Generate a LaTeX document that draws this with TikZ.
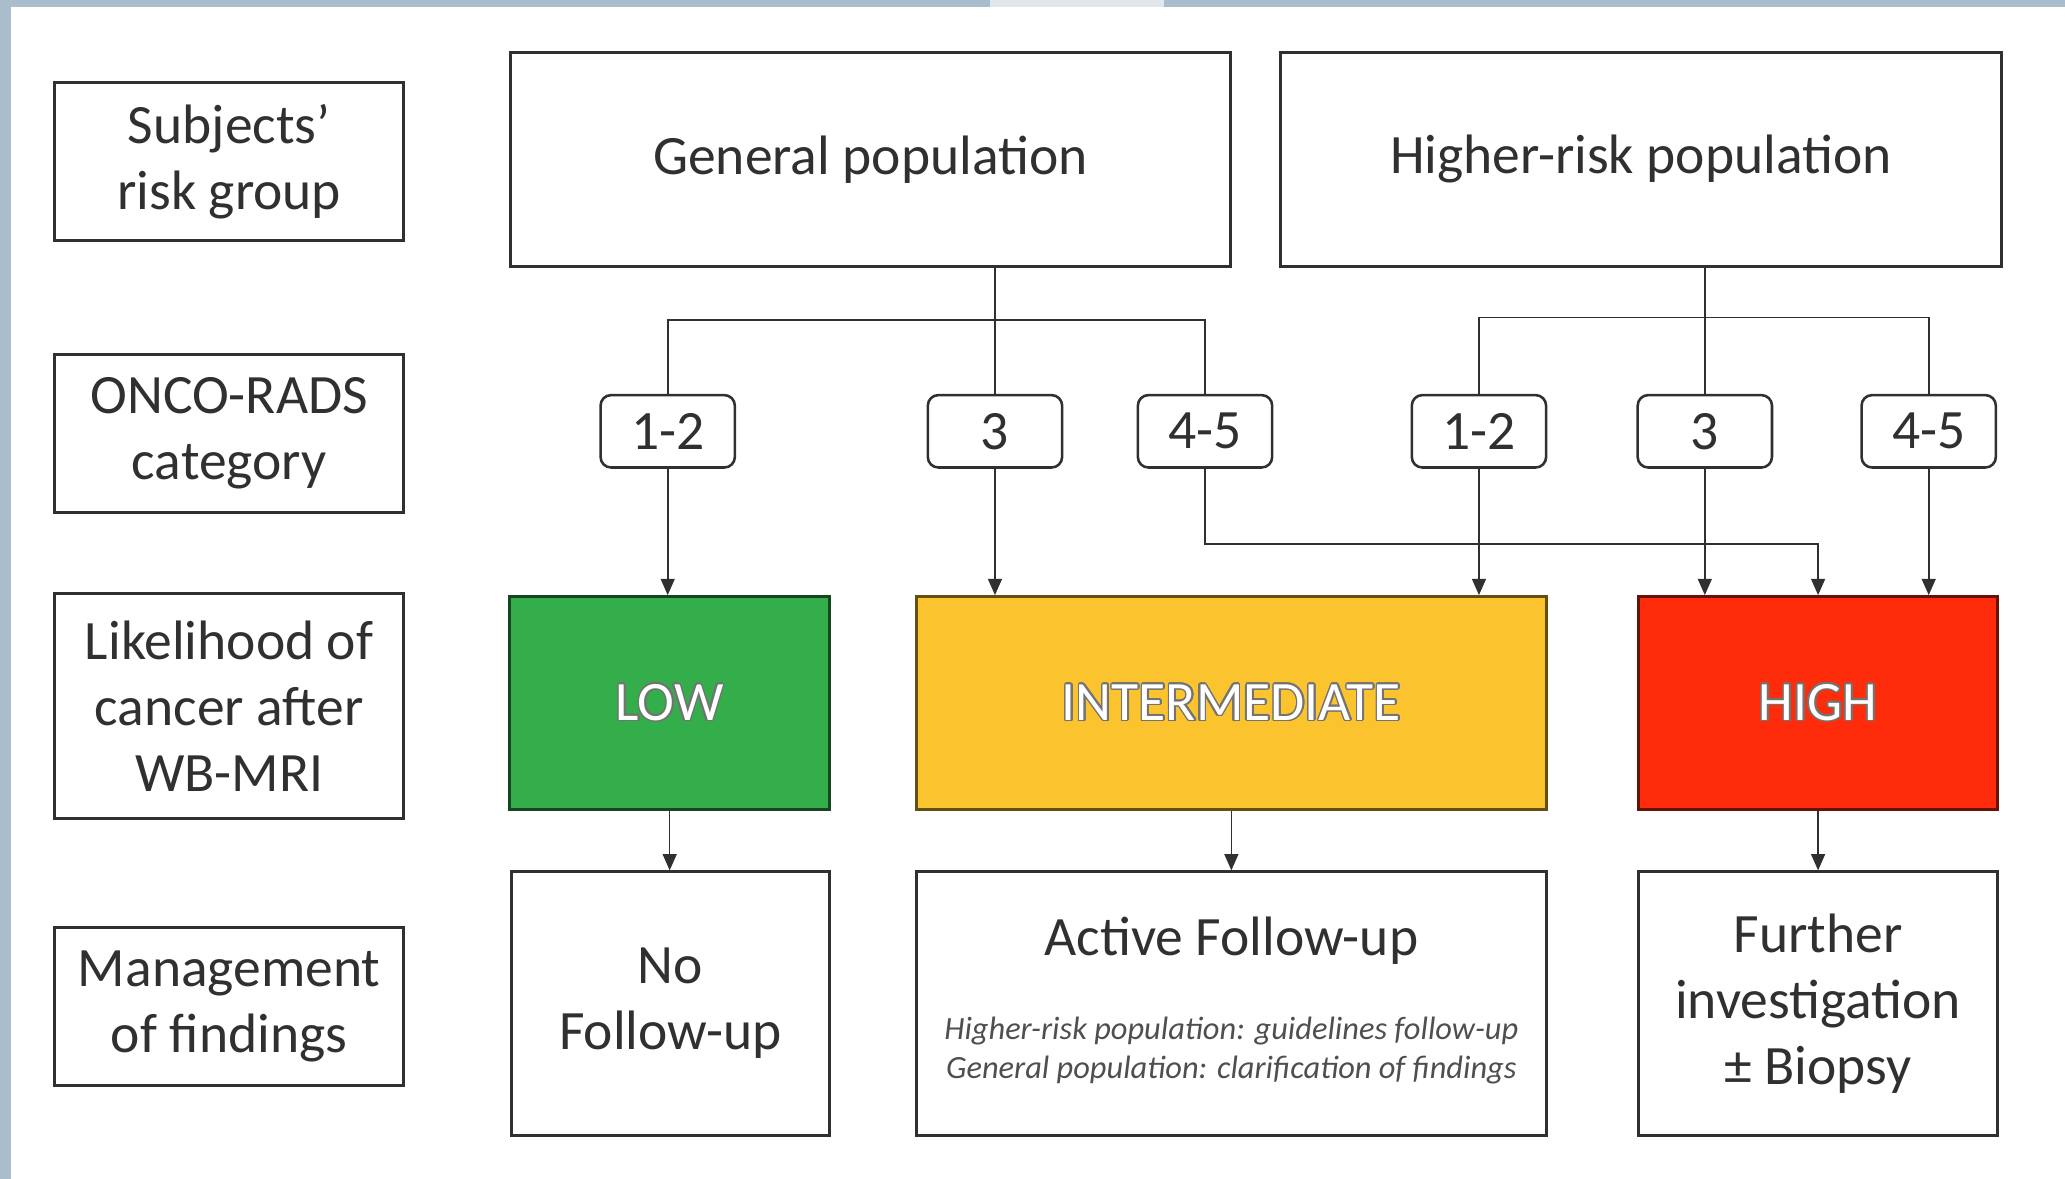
\documentclass[tikz,border=0pt]{standalone}
\usepackage{fontspec}
\setmainfont{Carlito}
\usepackage{contour}
\contourlength{0.7pt}
\usetikzlibrary{arrows.meta}

\definecolor{slideblue}{HTML}{A9BDCC}
\definecolor{inkgray}{HTML}{303030}
\definecolor{lowgreen}{HTML}{34AE4A}
\definecolor{midyellow}{HTML}{FBC32E}
\definecolor{highred}{HTML}{FF2C0C}

\tikzset{
  rowbox/.style={draw=inkgray, line width=1.3pt, align=center, text=inkgray,
    inner sep=0pt, font=\fontsize{24}{28.5}\selectfont},
  titlebox/.style={rowbox, minimum width=5.3cm, minimum height=2.4cm},
  popbox/.style={rowbox, minimum width=10.94cm, minimum height=3.24cm},
  catbox/.style={rowbox, line width=1.1pt, rounded corners=0.16cm,
    minimum width=2.04cm, minimum height=1.1cm},
  riskbox/.style={rowbox, minimum height=3.24cm, text=white,
    fill=#1, draw=#1!40!black},
  mgmtbox/.style={rowbox, minimum height=4cm},
  link/.style={draw=inkgray, line width=0.7pt},
  arr/.style={link, -{Triangle[length=7pt,width=6pt]}},
}

\begin{document}
\begin{tikzpicture}[x=0.02cm, y=-0.02cm]
      \useasboundingbox (0,0) rectangle (1568,895);
      \fill[slideblue] (0,0) rectangle (1568,895);
      \fill[slideblue!35] (752,0) rectangle (884,5);
      \fill[white] (8,5) rectangle (1568,895);
      % row titles
      \draw
        (174,123) node[titlebox] (subj){Subjects’\\risk group}
        (174,329) node[titlebox] (onco){ONCO-RADS\\category}
        (174,536) node[titlebox, minimum height=3.42cm] (lik){Likelihood of\\cancer after\\WB-MRI}
        (174,764) node[titlebox] (mgmt){Management\\of findings};
      % populations
      \draw
        (661,121) node[popbox] (gen){General population}
        (1246,121) node[popbox] (hrp){Higher-risk population};
      % ONCO-RADS categories
      \draw
        (507,327.5) node[catbox] (g12){1-2}
        (755.5,327.5) node[catbox] (g3){3}
        (915,327.5) node[catbox] (g45){4-5}
        (1123,327.5) node[catbox] (h12){1-2}
        (1294.5,327.5) node[catbox] (h3){3}
        (1464.5,327.5) node[catbox] (h45){4-5};
      % likelihood
      \draw
        (508.5,534) node[riskbox=lowgreen, minimum width=4.86cm] (low){\contour{black!55}{LOW}}
        (935,534) node[riskbox=midyellow, minimum width=9.56cm] (mid){\contour{black!55}{INTERMEDIATE}}
        (1380.5,534) node[riskbox=highred, minimum width=5.46cm] (high){\contour{black!55}{HIGH}};
      % management
      \draw
        (509,762) node[mgmtbox, minimum width=4.84cm] (nofu){No\\Follow-up}
        (935,762) node[mgmtbox, minimum width=9.56cm] (active){Active Follow-up\\[8pt]{\fontsize{14}{17}\selectfont\itshape\color{inkgray!85}
          \begin{tabular}[t]{@{}c@{}}Higher-risk population: guidelines follow-up\\General population: clarification of findings\end{tabular}}}
        (1380.5,762) node[mgmtbox, minimum width=5.46cm] (further){Further\\investigation\\± Biopsy};
      \coordinate (gbar) at (0,243);
      \coordinate (hbar) at (0,241);
      \coordinate (gjog) at (0,413);
      \begin{scope}[link]
        \draw (gen.south -| g3) to (g3.north);
        \draw (g12.north) -- (g12 |- gbar) -- (g45 |- gbar) -- (g45.north);
        \draw (hrp.south -| h3) to (h3.north);
        \draw (h12.north) -- (h12 |- hbar) -- (h45 |- hbar) -- (h45.north);
      \end{scope}
      \begin{scope}[arr]
        \draw (g12.south) to (g12 |- low.north);
        \draw (g3.south) to (g3 |- mid.north);
        \draw (g45.south) -- (g45 |- gjog) -| (high.north);
        \draw (h12.south) to (h12 |- mid.north);
        \draw (h3.south) to (h3 |- high.north);
        \draw (h45.south) to (h45 |- high.north);
        \draw (low.south) to (low.south |- nofu.north);
        \draw (mid.south) to (mid.south |- active.north);
        \draw (high.south) to (high.south |- further.north);
      \end{scope}
    \end{tikzpicture}
\end{document}
